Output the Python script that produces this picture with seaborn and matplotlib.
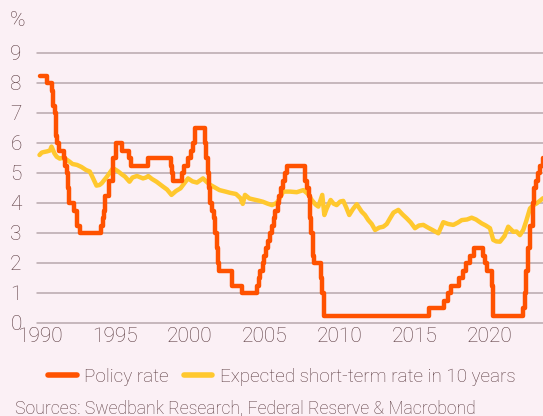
import matplotlib
matplotlib.use("Agg")
import matplotlib.pyplot as plt
import seaborn as sns
import pandas as pd

# Policy rate (Fed funds target, upper bound) - change dates (decimal year) and levels
policy_dates = [1990.0, 1990.5, 1990.8, 1990.87, 1990.92, 1991.0, 1991.08, 1991.17, 1991.3,
                1991.6, 1991.7, 1991.8, 1991.87, 1991.92, 1991.97, 1992.28, 1992.5, 1992.7,
                1994.1, 1994.2, 1994.3, 1994.38, 1994.62, 1994.87, 1995.08, 1995.5, 1995.95,
                1996.08, 1997.22, 1998.75, 1998.8, 1998.88, 1999.5, 1999.65, 1999.88, 2000.08,
                2000.22, 2000.38, 2001.01, 2001.08, 2001.22, 2001.3, 2001.38, 2001.5, 2001.65,
                2001.72, 2001.8, 2001.88, 2001.95, 2002.85, 2003.5, 2004.5, 2004.62, 2004.72,
                2004.87, 2004.95, 2005.1, 2005.22, 2005.38, 2005.5, 2005.62, 2005.72, 2005.87,
                2005.95, 2006.08, 2006.22, 2006.38, 2006.5, 2007.72, 2007.8, 2007.95, 2008.05,
                2008.08, 2008.22, 2008.33, 2008.77, 2008.83, 2008.96, 2015.96, 2016.96, 2017.22,
                2017.46, 2017.96, 2018.22, 2018.46, 2018.72, 2018.96, 2019.58, 2019.72, 2019.83,
                2020.17, 2020.22, 2022.22, 2022.38, 2022.46, 2022.57, 2022.72, 2022.87, 2022.96,
                2023.1, 2023.22, 2023.38, 2023.55, 2023.65]
policy_rates = [8.25, 8.0, 7.75, 7.5, 7.25, 7.0, 6.25, 6.0, 5.75,
                5.5, 5.25, 5.0, 4.75, 4.5, 4.0, 3.75, 3.25, 3.0,
                3.25, 3.5, 3.75, 4.25, 4.75, 5.5, 6.0, 5.75, 5.5,
                5.25, 5.5, 5.25, 5.0, 4.75, 5.0, 5.25, 5.5, 5.75,
                6.0, 6.5, 6.0, 5.5, 5.0, 4.5, 4.0, 3.75, 3.5,
                3.0, 2.5, 2.0, 1.75, 1.25, 1.0, 1.25, 1.5, 1.75,
                2.0, 2.25, 2.5, 2.75, 3.0, 3.25, 3.5, 3.75, 4.0,
                4.25, 4.5, 4.75, 5.0, 5.25, 4.75, 4.5, 4.25, 3.5,
                3.0, 2.25, 2.0, 1.5, 1.0, 0.25, 0.5, 0.75, 1.0,
                1.25, 1.5, 1.75, 2.0, 2.25, 2.5, 2.25, 2.0, 1.75,
                1.25, 0.25, 0.5, 1.0, 1.75, 2.5, 3.25, 4.0, 4.5,
                4.75, 5.0, 5.25, 5.5, 5.5]

# Expected short-term rate in 10 years
exp_dates = [1990.0, 1990.15, 1990.3, 1990.5, 1990.7, 1990.8, 1991.0, 1991.15, 1991.35, 1991.5,
             1991.8, 1992.0, 1992.2, 1992.5, 1992.8, 1993.1, 1993.35, 1993.5, 1993.8, 1994.0,
             1994.15, 1994.5, 1994.9, 1995.1, 1995.25, 1995.5, 1995.7, 1996.0, 1996.2, 1996.5,
             1996.9, 1997.1, 1997.25, 1997.5, 1997.8, 1998.25, 1998.5, 1998.8, 1999.1, 1999.4,
             1999.9, 2000.2, 2000.5, 2000.9, 2001.15, 2001.4, 2002.0, 2002.4, 2002.7, 2003.1,
             2003.4, 2003.55, 2003.7, 2004.0, 2004.25, 2004.6, 2004.9, 2005.2, 2005.5, 2005.8,
             2005.95, 2006.25, 2006.7, 2007.15, 2007.59, 2007.9, 2008.15, 2008.4, 2008.59, 2008.85,
             2008.99, 2009.15, 2009.41, 2009.6, 2009.81, 2010.05, 2010.25, 2010.45, 2010.65, 2010.9,
             2011.15, 2011.48, 2011.7, 2011.92, 2012.15, 2012.37, 2012.65, 2012.92, 2013.15, 2013.37,
             2013.6, 2013.92, 2014.2, 2014.48, 2014.75, 2015.03, 2015.3, 2015.59, 2015.9, 2016.2,
             2016.59, 2016.92, 2017.25, 2017.59, 2017.9, 2018.15, 2018.5, 2018.81, 2019.1, 2019.48,
             2019.75, 2020.03, 2020.25, 2020.45, 2020.7, 2021.0, 2021.25, 2021.59, 2021.8, 2022.03,
             2022.25, 2022.45, 2022.7, 2022.9, 2023.15, 2023.57]
exp_rates = [5.6, 5.68, 5.7, 5.72, 5.75, 5.88, 5.65, 5.54, 5.48, 5.5,
             5.45, 5.38, 5.3, 5.27, 5.2, 5.1, 5.05, 4.9, 4.58, 4.6,
             4.66, 4.88, 5.16, 5.1, 5.05, 4.95, 4.88, 4.71, 4.85, 4.9,
             4.82, 4.85, 4.9, 4.8, 4.71, 4.54, 4.45, 4.27, 4.4, 4.49,
             4.82, 4.72, 4.68, 4.82, 4.7, 4.6, 4.43, 4.38, 4.34, 4.3,
             4.16, 3.97, 4.27, 4.15, 4.12, 4.08, 4.04, 3.98, 3.93, 4.0,
             4.1, 4.38, 4.38, 4.36, 4.43, 4.3, 4.1, 3.95, 3.88, 4.27,
             3.6, 3.82, 4.1, 3.98, 3.93, 4.05, 4.07, 3.85, 3.6, 3.8,
             3.96, 3.71, 3.6, 3.43, 3.3, 3.1, 3.18, 3.21, 3.3, 3.49,
             3.68, 3.77, 3.62, 3.49, 3.35, 3.16, 3.25, 3.27, 3.18, 3.1,
             2.99, 3.36, 3.3, 3.27, 3.35, 3.43, 3.45, 3.51, 3.45, 3.32,
             3.25, 3.16, 2.77, 2.72, 2.71, 2.9, 3.21, 3.04, 3.05, 2.93,
             3.1, 3.4, 3.82, 3.92, 3.99, 4.16]

y_ticks = [0, 1, 2, 3, 4, 5, 6, 7, 8, 9]
x_ticks = [1990, 1995, 2000, 2005, 2010, 2015, 2020]

BG = "#FBF0F5"
TXT = "#5B3B40"
ORANGE = "#FF5200"
YELLOW = "#FFC82E"
GRID = "#B8A8AC"

sns.set_theme(style="white")
plt.rcParams["font.family"] = ["Roboto", "DejaVu Sans"]

fig = plt.figure(figsize=(5.43, 4.16), dpi=100, facecolor=BG)
ax = fig.add_axes([37 / 543, 1 - 323 / 416, 1 - 37 / 543, 270 / 416])
ax.set_facecolor(BG)

df_pol = pd.DataFrame({"date": policy_dates, "rate": policy_rates})
df_exp = pd.DataFrame({"date": exp_dates, "rate": exp_rates})

sns.lineplot(data=df_exp, x="date", y="rate", ax=ax, color=YELLOW, lw=3.2,
             label="Expected short-term rate in 10 years", zorder=3)
sns.lineplot(data=df_pol, x="date", y="rate", ax=ax, color=ORANGE, lw=3.2,
             drawstyle="steps-post", label="Policy rate", zorder=4)

ax.set_xlim(1990 - 2.5 / 15, 1990 + (543 - 39.5) / 15)
ax.set_ylim(0, 9)
ax.set_xticks(x_ticks)
ax.set_xticklabels([str(t) for t in x_ticks])
ax.set_yticks(y_ticks)
ax.set_yticklabels([str(t) for t in y_ticks])
for t in y_ticks:
    ax.axhline(t, color=GRID, lw=1.1, zorder=1, clip_on=False)
for s in ax.spines.values():
    s.set_visible(False)
ax.tick_params(axis="both", length=0, labelsize=15, labelcolor=TXT)
ax.tick_params(axis="x", pad=3)
ax.tick_params(axis="y", pad=11)
for lab in ax.get_xticklabels() + ax.get_yticklabels():
    lab.set_fontweight("light")
ax.set_xlabel("")
ax.set_ylabel("")

handles, labels = ax.get_legend_handles_labels()
order = [1, 0]
leg = ax.legend([handles[i] for i in order], [labels[i] for i in order],
                loc="center", bbox_to_anchor=(282 / 543, 1 - 377 / 416),
                bbox_transform=fig.transFigure, ncol=2, frameon=False,
                prop={"size": 13.6, "weight": "light"}, handlelength=1.5, handletextpad=0.4,
                columnspacing=0.8, labelcolor=TXT)
for h in leg.get_lines():
    h.set_linewidth(4)

fig.text(10 / 543, 1 - 21 / 416, "%", fontsize=15, color=TXT, va="center", ha="left",
         fontweight="light")
fig.text(15 / 543, 1 - 408 / 416, "Sources: Swedbank Research, Federal Reserve & Macrobond",
         fontsize=12.7, color=TXT, va="center", ha="left", fontweight="light")

fig.savefig("out.png", dpi=100, facecolor=BG)
